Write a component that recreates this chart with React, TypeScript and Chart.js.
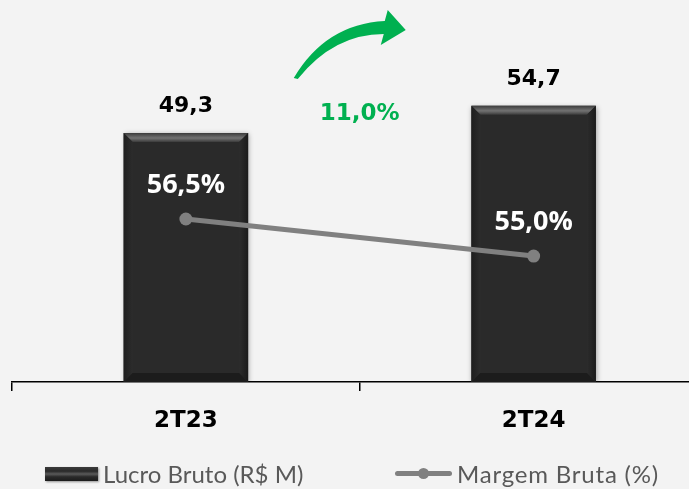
import React, { useEffect, useRef } from "react";
import { Chart, registerables } from "chart.js";

Chart.register(...registerables);

const categories = ["2T23", "2T24"];
const lucroBruto = [49.3, 54.7];
const margemBruta = [56.5, 55.0];
const growthText = "11,0%";
const legendLabels = ["Lucro Bruto (R$ M)", "Margem Bruta (%)"];

const fmt = (v: number) => v.toFixed(1).replace(".", ",");

const BG = "#f3f3f3";
const BAR = "#2a2a2a";
const LINE = "#808080";
const GREEN = "#00b050";

const decorPlugin = {
  id: "decor",
  beforeDatasetDraw(chart: any, args: any) {
    if (args.index === 0) {
      const ctx = chart.ctx;
      ctx.save();
      ctx.shadowColor = "rgba(0,0,0,0.35)";
      ctx.shadowBlur = 5;
      ctx.shadowOffsetX = 1;
      ctx.shadowOffsetY = 1;
    }
  },
  afterDatasetDraw(chart: any, args: any) {
    if (args.index !== 0) return;
    const ctx = chart.ctx;
    ctx.restore();
    const meta = chart.getDatasetMeta(0);
    meta.data.forEach((el: any) => {
      const l = el.x - el.width / 2;
      const r = el.x + el.width / 2;
      const t = el.y;
      const b = el.base;
      const bv = 9;
      ctx.save();
      const g = ctx.createLinearGradient(0, t, 0, t + bv);
      g.addColorStop(0, "#3c3c3c");
      g.addColorStop(0.55, "#727272");
      g.addColorStop(1, "#3a3a3a");
      ctx.fillStyle = g;
      ctx.beginPath();
      ctx.moveTo(l, t);
      ctx.lineTo(r, t);
      ctx.lineTo(r - bv, t + bv);
      ctx.lineTo(l + bv, t + bv);
      ctx.closePath();
      ctx.fill();
      const gl = ctx.createLinearGradient(l, 0, l + bv, 0);
      gl.addColorStop(0, "#1e1e1e");
      gl.addColorStop(1, "#2c2c2c");
      ctx.fillStyle = gl;
      ctx.beginPath();
      ctx.moveTo(l, t);
      ctx.lineTo(l + bv, t + bv);
      ctx.lineTo(l + bv, b - bv);
      ctx.lineTo(l, b);
      ctx.closePath();
      ctx.fill();
      const gr = ctx.createLinearGradient(r - bv, 0, r, 0);
      gr.addColorStop(0, "#2c2c2c");
      gr.addColorStop(1, "#1a1a1a");
      ctx.fillStyle = gr;
      ctx.beginPath();
      ctx.moveTo(r, t);
      ctx.lineTo(r - bv, t + bv);
      ctx.lineTo(r - bv, b - bv);
      ctx.lineTo(r, b);
      ctx.closePath();
      ctx.fill();
      ctx.fillStyle = "#1c1c1c";
      ctx.beginPath();
      ctx.moveTo(l, b);
      ctx.lineTo(l + bv, b - bv);
      ctx.lineTo(r - bv, b - bv);
      ctx.lineTo(r, b);
      ctx.closePath();
      ctx.fill();
      ctx.restore();
    });
  },
  afterDatasetsDraw(chart: any) {
    const ctx = chart.ctx;
    const area = chart.chartArea;
    ctx.save();
    ctx.textAlign = "center";
    ctx.textBaseline = "middle";
    ctx.fillStyle = "#000";
    ctx.font = "bold 22px 'DejaVu Sans'";
    chart.getDatasetMeta(0).data.forEach((el: any, i: number) => {
      ctx.fillText(fmt(lucroBruto[i]), el.x, el.y - 27);
    });
    ctx.fillStyle = "#fff";
    ctx.font = "bold 27px 'Open Sans'";
    chart.getDatasetMeta(1).data.forEach((el: any, i: number) => {
      ctx.fillText(fmt(margemBruta[i]) + "%", el.x, el.y - 34);
    });
    const xs = chart.scales.x;
    const mx = (xs.getPixelForValue(0) + xs.getPixelForValue(1)) / 2;
    const ty = area.top;
    ctx.fillStyle = GREEN;
    ctx.font = "bold 23px 'DejaVu Sans'";
    ctx.fillText(growthText, mx, ty + 94);
    ctx.beginPath();
    ctx.moveTo(mx - 66, ty + 58);
    ctx.quadraticCurveTo(mx - 34, ty + 4, mx + 25, ty + 1);
    ctx.lineTo(mx + 28, ty - 10);
    ctx.lineTo(mx + 46, ty + 10);
    ctx.lineTo(mx + 21, ty + 25);
    ctx.lineTo(mx + 24, ty + 14);
    ctx.quadraticCurveTo(mx - 26, ty + 14, mx - 62, ty + 59);
    ctx.closePath();
    ctx.fill();
    ctx.restore();
  },
};

export default function App() {
  const ref = useRef<HTMLCanvasElement | null>(null);
  useEffect(() => {
    if (!ref.current) return;
    const chart = new Chart(ref.current, {
      type: "bar",
      data: {
        labels: categories,
        datasets: [
          {
            type: "bar",
            label: legendLabels[0],
            data: lucroBruto,
            backgroundColor: BAR,
            barPercentage: 0.358,
            categoryPercentage: 1,
            yAxisID: "y",
            order: 1,
          } as any,
          {
            type: "line",
            label: legendLabels[1],
            data: margemBruta,
            borderColor: LINE,
            backgroundColor: LINE,
            borderWidth: 5,
            pointRadius: 6.5,
            pointBorderWidth: 0,
            pointBackgroundColor: LINE,
            yAxisID: "y1",
            order: 0,
          } as any,
        ],
      },
      options: {
        responsive: false,
        animation: false,
        devicePixelRatio: 1,
        layout: { padding: { left: 12, top: 20, right: 0, bottom: 0 } },
        plugins: { legend: { display: false }, tooltip: { enabled: false } },
        scales: {
          x: {
            offset: true,
            grid: {
              display: true,
              offset: true,
              drawOnChartArea: false,
              drawTicks: true,
              tickLength: 9,
              color: "#000",
              lineWidth: 1.5,
            },
            border: { display: true, color: "#000", width: 1.5 },
            ticks: {
              color: "#000",
              font: { family: "'DejaVu Sans'", size: 23, weight: "bold" },
              padding: 16,
            },
            afterFit: (s: any) => {
              s.height = 107;
            },
          },
          y: { display: false, min: 0, max: 71.7 },
          y1: { display: false, min: 49.9, max: 64.56 },
        },
      } as any,
      plugins: [decorPlugin],
    });
    return () => chart.destroy();
  }, []);

  const legendText: React.CSSProperties = {
    position: "absolute",
    top: 460,
    height: 28,
    lineHeight: "28px",
    fontFamily: "Lato, sans-serif",
    fontSize: 24,
    color: "#595959",
    whiteSpace: "nowrap",
  };

  return (
    <div
      style={{
        position: "fixed",
        left: 0,
        top: 0,
        width: 689,
        height: 489,
        overflow: "hidden",
        background: BG,
      }}
    >
      <canvas ref={ref} width={714} height={489} style={{ position: "absolute", left: 0, top: 0 }} />
      <div
        style={{
          position: "absolute",
          left: 45,
          top: 467,
          width: 53,
          height: 14,
          background: "linear-gradient(#3a3a3a, #2a2a2a 30%, #5a5a5a 50%, #2a2a2a 70%, #1c1c1c)",
          boxShadow: "1px 1px 2px rgba(0,0,0,0.4)",
        }}
      />
      <div style={{ ...legendText, left: 103 }}>{legendLabels[0]}</div>
      <div
        style={{
          position: "absolute",
          left: 395,
          top: 471,
          width: 57,
          height: 5,
          borderRadius: 2.5,
          background: LINE,
        }}
      />
      <div
        style={{
          position: "absolute",
          left: 417.5,
          top: 468,
          width: 11,
          height: 11,
          borderRadius: "50%",
          background: LINE,
        }}
      />
      <div style={{ ...legendText, left: 457, letterSpacing: 0.8 }}>{legendLabels[1]}</div>
    </div>
  );
}
